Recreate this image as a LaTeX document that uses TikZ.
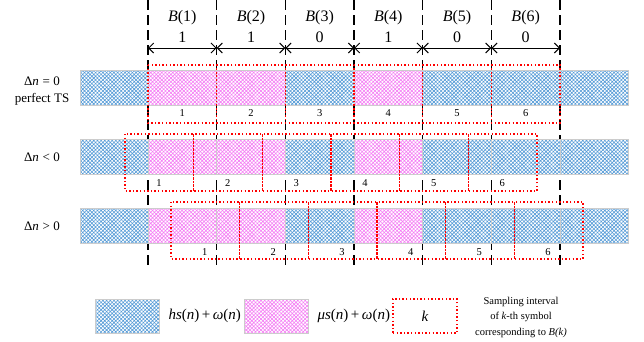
\documentclass[tikz,border=0pt]{standalone}
\usepackage{fontspec}
\setmainfont{Liberation Serif}
\usetikzlibrary{arrows.meta,patterns.meta,positioning,calc}

\definecolor{hsblue}{RGB}{85,155,215}
\definecolor{mupink}{RGB}{245,125,245}

\tikzset{
  hsbar/.style={draw=gray!40, line width=0.8pt,
    preaction={fill=white},
    preaction={pattern={Hatch[angle=45,distance=2.6pt,line width=0.6pt]}, pattern color=hsblue}},
  mubar/.style={draw=gray!40, line width=0.8pt,
    preaction={fill=white},
    preaction={pattern={Hatch[angle=45,distance=2.6pt,line width=0.6pt]}, pattern color=mupink}},
  sampbox/.style={draw=red, line width=1.3pt, dash pattern=on 1.4pt off 2.2pt},
  gridline/.style={line width=1.2pt, dash pattern=on 10pt off 5pt},
  blabel/.style={font=\fontsize{16}{18}\selectfont, inner sep=0pt},
  rowlabel/.style={font=\fontsize{13}{15}\selectfont, inner sep=0pt},
  numlabel/.style={font=\fontsize{10.5}{12}\selectfont, inner sep=0pt},
}

\begin{document}
\begin{tikzpicture}[x=1pt, y=-1pt, >={Straight Barb[length=5pt,width=10pt]}]
    \useasboundingbox (0,0) rectangle (644,341);

    % symbol boundaries
    \foreach \k in {0,...,6} {
        \coordinate (g\k) at ({148+68.67*\k},0);
        \coordinate (a\k) at ({148+68.67*\k},48);
        \draw[gridline] (g\k) -- ++(0,265);
    }

    % bit intervals
    \foreach \k/\b [count=\j from 0] in {1/1,2/1,3/0,4/1,5/0,6/0} {
        \draw[<->, line width=1pt] (a\j) -- (a\k);
        \node[blabel] (B\k) at ({148+68.67*(\k-0.5)},18) {\textit{B}(\k)};
        \node[blabel] (bit\k) at ({148+68.67*(\k-0.5)},37) {\b};
    }

    % received signal rows
    \foreach \yt in {70,139,208} {
        \draw[hsbar] (80,\yt) rectangle (148,{\yt+35});
        \foreach \k/\c in {1/mubar,2/mubar,3/hsbar,4/mubar,5/hsbar,6/hsbar}
            \draw[\c] ({148+68.67*(\k-1)},\yt) rectangle ({148+68.67*\k},{\yt+35});
        \draw[hsbar] (560,\yt) rectangle (628,{\yt+35});
    }

    % sampling intervals
    \foreach \k in {1,...,6} {
        \draw[sampbox] ({148+68.67*(\k-1)},65) rectangle ({148+68.67*\k},123);
        \node[numlabel] (s0-\k) at ({148+68.67*(\k-0.5)},113) {\k};
        \draw[sampbox] ({125+68.67*(\k-1)},134) rectangle ({125+68.67*\k},191);
        \node[numlabel] (sneg-\k) at ({159+68.67*(\k-1)},183) {\k};
        \draw[sampbox] ({171+68.67*(\k-1)},202) rectangle ({171+68.67*\k},259);
        \node[numlabel] (spos-\k) at ({136+68.67*\k},252) {\k};
    }

    % row labels
    \node[rowlabel] (rowzero) at (42,81) {Δ\textit{n}\;=\;0};
    \node[rowlabel] (perfect) at (42,99) {perfect TS};
    \node[rowlabel] (rowneg) at (42,157) {Δ\textit{n}\;<\;0};
    \node[rowlabel] (rowpos) at (42,226) {Δ\textit{n}\;>\;0};

    % legend
    \node[hsbar, minimum width=64pt, minimum height=34pt] (leghs) at (127,316) {};
    \node[right=9pt of leghs, font=\fontsize{15}{17}\selectfont, inner sep=0pt] (texths)
        {\textit{hs}(\textit{n})\,+\,\textit{ω}(\textit{n})};
    \node[mubar, minimum width=64pt, minimum height=34pt] (legmu) at (276,316) {};
    \node[right=9pt of legmu, font=\fontsize{15}{17}\selectfont, inner sep=0pt] (textmu)
        {\textit{μs}(\textit{n})\,+\,\textit{ω}(\textit{n})};
    \node[sampbox, minimum width=64pt, minimum height=34pt, font=\fontsize{15}{17}\selectfont] (legk) at (425,316) {\textit{k}};
    \node[align=center, font=\fontsize{10.5}{15.5}\selectfont] (textk) at (521,317)
        {Sampling interval\\of \textit{k}-th symbol\\corresponding to \textit{B(k)}};
\end{tikzpicture}
\end{document}
